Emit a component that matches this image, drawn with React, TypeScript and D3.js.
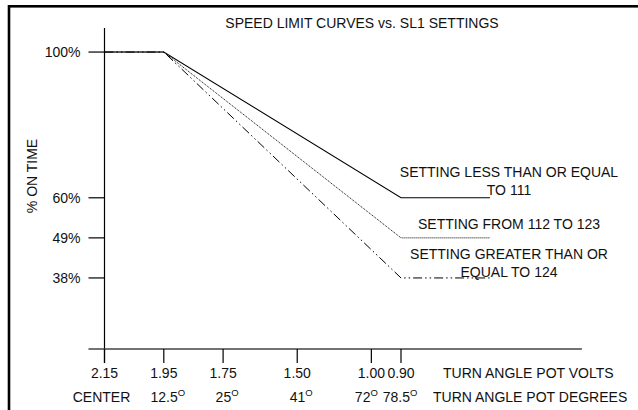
import React from "react";
import * as d3 from "d3";

// ── Data ──────────────────────────────────────────────────────────────────────

const VOLT_TICKS = [2.15, 1.95, 1.75, 1.5, 1.0, 0.9];
const VOLT_LABELS = ["2.15", "1.95", "1.75", "1.50", "1.00", "0.90"];
const DEGREE_LABELS = ["CENTER", "12.5", "25", "41", "72", "78.5"];
const DEGREE_MARK = [false, true, true, true, true, true];

const PCT_TICKS = [100, 60, 49, 38];
const PCT_LABELS = ["100%", "60%", "49%", "38%"];

const CURVE_VOLTS = [2.15, 1.95, 0.9, 0.6];
const CURVE_LOW = [100, 100, 60, 60];
const CURVE_MID = [100, 100, 49, 49];
const CURVE_HIGH = [100, 100, 38, 38];

const CURVE_LABELS = [
  ["SETTING LESS THAN OR EQUAL", "TO 111"],
  ["SETTING FROM 112 TO 123"],
  ["SETTING GREATER THAN OR", "EQUAL TO 124"],
];

// ── Layout ────────────────────────────────────────────────────────────────────

const W = 638;
const H = 410;
const FONT = "'Liberation Sans', Arial, Helvetica, sans-serif";
const INK = "#111";

const X_LEFT = 104.5; // 2.15 V
const X_RIGHT = 401; // 0.90 V
const Y_TOP = 28;
const Y_AXIS = 349;
const TICK = 14;
const X_AXIS_END_VOLTS = 0.29;
const LABEL_LIFT = [3, 9, 1]; // gap between each label block and its floor line
const LABEL_LEADING = 17.5;

// the 1.50 → 1.00 span is drawn compressed on the original axis
const squash = d3
  .scaleLinear()
  .domain([3, 1.5, 1.0, 0])
  .range([3, 1.5, 1.25, 0.25]);

const xBase = d3
  .scaleLinear()
  .domain([squash(2.15), squash(0.9)])
  .range([X_LEFT, X_RIGHT]);
const x = (v: number) => xBase(squash(v));

const y = d3.scaleLinear().domain([18.5, 106.6]).range([Y_AXIS, Y_TOP]);

const SERIES = [
  { values: CURVE_LOW, dash: undefined, width: 1.1 },
  { values: CURVE_MID, dash: "1,1", width: 1 },
  { values: CURVE_HIGH, dash: "9,3,1.5,3,1.5,3", width: 1 },
];

const line = d3
  .line<[number, number]>()
  .x((d) => x(d[0]))
  .y((d) => y(d[1]));

export default function App() {
  const x0 = x(VOLT_TICKS[0]);
  const labelCx = x(0.9) + 108;

  // degree labels: number centred under the tick, except the crowded pair at the right
  const degreeX = (i: number) => {
    const tx = x(VOLT_TICKS[i]);
    if (!DEGREE_MARK[i]) return tx - 3;
    if (i === 4) return tx - 5;
    if (i === 5) return tx - 1;
    return tx + 4;
  };

  return (
    <svg
      width={W}
      height={H}
      style={{ position: "absolute", left: 0, top: 0, background: "#fff" }}
      fontFamily={FONT}
      fontSize={14}
      fill={INK}
    >
      {/* frame */}
      <rect x={9} y={6.3} width={W} height={H} fill="none" stroke="#000" strokeWidth={2.6} />

      <text x={362} y={28} textAnchor="middle">
        SPEED LIMIT CURVES vs. SL1 SETTINGS
      </text>

      {/* y axis */}
      <line x1={x0} x2={x0} y1={Y_TOP} y2={Y_AXIS + TICK} stroke="#000" strokeWidth={1.2} />
      {PCT_TICKS.map((p, i) => (
        <g key={p}>
          <line x1={x0 - 16} x2={x0} y1={y(p)} y2={y(p)} stroke="#000" strokeWidth={1.2} />
          <text x={x0 - 24} y={y(p)} dy="0.35em" textAnchor="end">
            {PCT_LABELS[i]}
          </text>
        </g>
      ))}
      <text transform="translate(37,176) rotate(-90)" textAnchor="middle">
        % ON TIME
      </text>

      {/* x axis */}
      <line
        x1={x0 - 16}
        x2={x(X_AXIS_END_VOLTS)}
        y1={Y_AXIS}
        y2={Y_AXIS}
        stroke="#444"
        strokeWidth={1.4}
      />
      {VOLT_TICKS.map((v, i) => (
        <g key={v}>
          <line x1={x(v)} x2={x(v)} y1={Y_AXIS} y2={Y_AXIS + TICK} stroke="#000" strokeWidth={1.2} />
          <text x={x(v)} y={378} textAnchor="middle">
            {VOLT_LABELS[i]}
          </text>
          <text x={degreeX(i)} y={402} textAnchor="middle">
            {DEGREE_LABELS[i]}
            {DEGREE_MARK[i] && (
              <tspan fontSize={9.5} dy={-6}>
                O
              </tspan>
            )}
          </text>
        </g>
      ))}
      <text x={x(0.9) + 42} y={378}>
        TURN ANGLE POT VOLTS
      </text>
      <text x={x(0.9) + 32} y={402}>
        TURN ANGLE POT DEGREES
      </text>

      {/* curves */}
      {SERIES.map((s, i) => (
        <path
          key={i}
          d={line(CURVE_VOLTS.map((v, j) => [v, s.values[j]] as [number, number])) ?? ""}
          fill="none"
          stroke="#000"
          strokeWidth={s.width}
          strokeDasharray={s.dash}
        />
      ))}

      {/* curve labels */}
      {CURVE_LABELS.map((lines, i) => {
        const floor = y(SERIES[i].values[SERIES[i].values.length - 1]);
        return lines.map((t, k) => (
          <text
            key={`${i}-${k}`}
            x={labelCx}
            y={floor - LABEL_LIFT[i] - (lines.length - 1 - k) * LABEL_LEADING}
            textAnchor="middle"
          >
            {t}
          </text>
        ));
      })}
    </svg>
  );
}
